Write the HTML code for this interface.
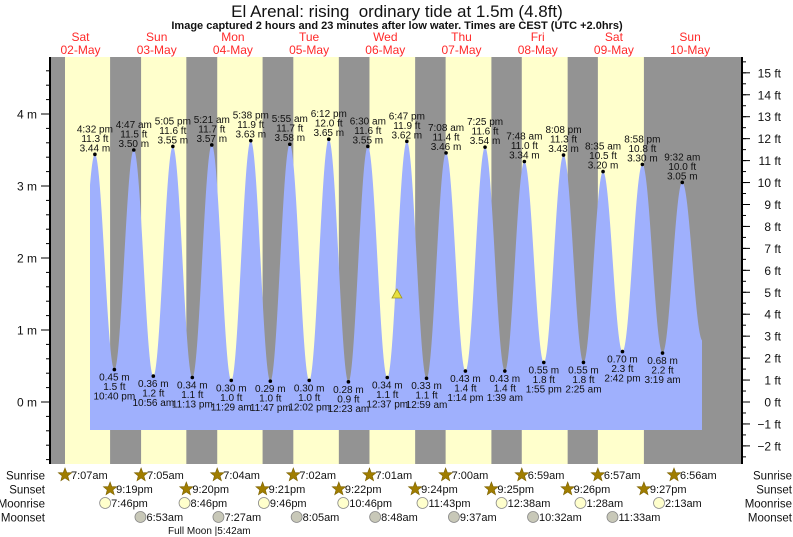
<!DOCTYPE html>
<html><head><meta charset="utf-8">
<style>
html,body{margin:0;padding:0;background:#fff;}
svg{display:block;font-family:"Liberation Sans",sans-serif;}
</style></head>
<body>
<svg id="chart" width="793" height="537" viewBox="0 0 793 537" xmlns="http://www.w3.org/2000/svg">
<text x="397" y="17" text-anchor="middle" font-size="17" fill="#111" style="white-space:pre">El Arenal: rising&#160; ordinary tide at 1.5m (4.8ft)</text>
<text x="397" y="29" text-anchor="middle" font-size="11" font-weight="bold" fill="#111">Image captured 2 hours and 23 minutes after low water. Times are CEST (UTC +2.0hrs)</text>
<g id="bg"></g>
<g id="tide"></g>
<g id="labels"></g>
<g id="axes"></g>
<g id="astro"></g>
</svg>
<script>
// ---- data ----
const dayNames = ["Sat","Sun","Mon","Tue","Wed","Thu","Fri","Sat","Sun"];
const dayDates = ["02-May","03-May","04-May","05-May","06-May","07-May","08-May","09-May","10-May"];
const sunriseTimes = ["7:07am","7:05am","7:04am","7:02am","7:01am","7:00am","6:59am","6:57am","6:56am"];
const sunsetTimes = ["9:19pm","9:20pm","9:21pm","9:22pm","9:24pm","9:25pm","9:26pm","9:27pm"];
const moonriseDays = [0,1,2,3,4,6,7,8];
const moonriseTimes = ["7:46pm","8:46pm","9:46pm","10:46pm","11:43pm","12:38am","1:28am","2:13am"];
const moonsetDays = [1,2,3,4,5,6,7];
const moonsetTimes = ["6:53am","7:27am","8:05am","8:48am","9:37am","10:32am","11:33am"];
const tideDays = [0,0,1,1,1,1,2,2,2,2,3,3,3,4,4,4,4,5,5,5,5,6,6,6,6,7,7,7,7,8,8];
const tideTimes = ["4:32 pm","10:40 pm","4:47 am","10:56 am","5:05 pm","11:13 pm","5:21 am","11:29 am","5:38 pm","11:47 pm","5:55 am","12:02 pm","6:12 pm","12:23 am","6:30 am","12:37 pm","6:47 pm","12:59 am","7:08 am","1:14 pm","7:25 pm","1:39 am","7:48 am","1:55 pm","8:08 pm","2:25 am","8:35 am","2:42 pm","8:58 pm","3:19 am","9:32 am"];
const tideMeters = [3.44,0.45,3.50,0.36,3.55,0.34,3.57,0.30,3.63,0.29,3.58,0.30,3.65,0.28,3.55,0.34,3.62,0.33,3.46,0.43,3.54,0.43,3.34,0.55,3.43,0.55,3.20,0.70,3.30,0.68,3.05];
const meterTicks = [0,1,2,3,4];
const feetTicks = [-2,-1,0,1,2,3,4,5,6,7,8,9,10,11,12,13,14,15];
const currentLevel = 1.5;
const currentTime = 4*24 + 15.67;

// ---- scales ----
const PX_DAY = 76.2, X0 = 42.4;
const plotL = 50, plotR = 742, plotT = 57, plotB = 464;
const xH = h => X0 + h * PX_DAY / 24;
const yM = m => 402 - m * 72;
const yF = f => yM(f * 0.3048);
function parseT(s){const m=s.match(/(\d+):(\d+)\s*(am|pm)/);let h=+m[1]%12;if(m[3]==="pm")h+=12;return h+ +m[2]/60;}
const NS="http://www.w3.org/2000/svg";
function mk(tag,attrs,parent,txt){const e=document.createElementNS(NS,tag);for(const k in attrs)e.setAttribute(k,attrs[k]);if(txt!==undefined)e.textContent=txt;parent.appendChild(e);return e;}

// ---- background ----
const bg=document.getElementById('bg');
let r=mk('rect',{x:plotL,y:plotT,width:plotR-plotL,height:plotB-plotT,fill:'#939393'},bg);


for(let d=0;d<sunsetTimes.length;d++){
  const x1=xH(d*24+parseT(sunriseTimes[d])), x2=xH(d*24+parseT(sunsetTimes[d]));
  const yr=mk('rect',{x:x1,y:plotT,width:x2-x1,height:plotB-plotT,fill:'#ffffcc'},bg);
  
  
}
for(let d=0;d<dayNames.length;d++){
  const cx=xH(d*24+12);
  const t1=mk('text',{x:cx,y:41,'text-anchor':'middle','font-size':12,fill:'#ff2a2a'},document.getElementById('chart'),dayNames[d]);
  
  
  const t2=mk('text',{x:cx,y:54,'text-anchor':'middle','font-size':12,fill:'#ff2a2a'},document.getElementById('chart'),dayDates[d]);
  
  
}

// ---- tide curve ----
const hrs=tideTimes.map((t,i)=>tideDays[i]*24+parseT(t));
const ext=[{h:hrs[0]-6.2,m:0.5}].concat(hrs.map((h,i)=>({h,m:tideMeters[i]}))).concat([{h:hrs[hrs.length-1]+6.4,m:0.85}]);
const startX=90, endX=702, baseY=430;
function level(h){for(let i=0;i<ext.length-1;i++){const a=ext[i],b=ext[i+1];if(h>=a.h&&h<=b.h){const t=(h-a.h)/(b.h-a.h);return a.m+(b.m-a.m)*(1-Math.cos(Math.PI*t))/2;}}return 0;}
let pts=[`${startX},${baseY}`];
for(let x=startX;x<=endX;x+=0.5){const h=(x-X0)*24/PX_DAY;pts.push(`${x},${yM(level(h)).toFixed(2)}`);}
pts.push(`${endX},${baseY}`);
const tide=document.getElementById('tide');
const poly=mk('polygon',{points:pts.join(' '),fill:'#9fb0fd'},tide);



// ---- labels ----
const lab=document.getElementById('labels');
hrs.forEach((h,i)=>{
  const x=xH(h), y=yM(tideMeters[i]), m=tideMeters[i];
  const dot=mk('circle',{cx:x,cy:y,r:1.8,fill:'#000'},lab);
  
  
  const ft=(m*3.28084).toFixed(1)+" ft", ms=m.toFixed(2)+" m";
  const high=i%2===0;
  const lines=high?[tideTimes[i],ft,ms]:[ms,ft,tideTimes[i]];
  const ys=high?[y-22,y-12.5,y-3]:[y+11,y+20.5,y+30];
  lines.forEach((s,k)=>{
    const t=mk('text',{x:x,y:ys[k],'text-anchor':'middle','font-size':10,fill:'#111'},lab,s);
    
    
  });
});
const cur=mk('polygon',{points:`${xH(currentTime)-5},${yM(currentLevel)+4} ${xH(currentTime)+5},${yM(currentLevel)+4} ${xH(currentTime)},${yM(currentLevel)-5}`,fill:'#e8e040',stroke:'#a09820','stroke-width':0.8},lab);



// ---- axes ----
const ax=document.getElementById('axes');
let l=mk('line',{x1:plotL,y1:plotT,x2:plotL,y2:plotB,stroke:'#000','stroke-width':2},ax);


l=mk('line',{x1:plotR,y1:plotT,x2:plotR,y2:plotB,stroke:'#000','stroke-width':2},ax);


for(let m=-0.8;m<=4.81;m+=0.2){const y=yM(m);if(y<plotT||y>plotB)continue;const mt=mk('line',{x1:plotL-4,y1:y,x2:plotL,y2:y,stroke:'#000','stroke-width':1},ax);}
meterTicks.forEach(m=>{const y=yM(m);
  const t=mk('line',{x1:plotL-9,y1:y,x2:plotL,y2:y,stroke:'#000','stroke-width':1},ax);
  
  
  const tx=mk('text',{x:37,y:y+4.5,'text-anchor':'end','font-size':12,fill:'#111'},ax,m+" m");
  
  
});
for(let f=-2.5;f<=15.5;f+=0.5){const y=yF(f);if(y<plotT||y>plotB)continue;const mt=mk('line',{x1:plotR,y1:y,x2:plotR+4,y2:y,stroke:'#000','stroke-width':1},ax);}
feetTicks.forEach(f=>{const y=yF(f);
  const t=mk('line',{x1:plotR,y1:y,x2:plotR+8,y2:y,stroke:'#000','stroke-width':1},ax);
  
  
  const tx=mk('text',{x:781,y:y+4.5,'text-anchor':'end','font-size':12,fill:'#111'},ax,(f<0?"\u2212"+(-f):f)+" ft");
  
  
});

// ---- astronomy rows ----
const as=document.getElementById('astro');
const rowY=[475,489,503,517];
["Sunrise","Sunset","Moonrise","Moonset"].forEach((n,i)=>{
  const a=mk('text',{x:45,y:rowY[i]+4.5,'text-anchor':'end','font-size':11.5,fill:'#111'},as,n);
  
  
  const b=mk('text',{x:792,y:rowY[i]+4.5,'text-anchor':'end','font-size':11.5,fill:'#111'},as,n);
  
  
});
function star(cx,cy){const p=[];for(let k=0;k<10;k++){const a=-Math.PI/2+k*Math.PI/5,rr=k%2?3:7;p.push((cx+rr*Math.cos(a)).toFixed(1)+','+(cy+rr*Math.sin(a)).toFixed(1));}return p.join(' ');}
function addEvent(x,row,txt,kind){
  let ic;
  if(kind==='star') ic=mk('polygon',{points:star(x,rowY[row]),fill:'#a07d00',stroke:'#7a6000','stroke-width':0.6},as);
  else ic=mk('circle',{cx:x,cy:rowY[row],r:5.5,fill:kind==='mr'?'#ffffcc':'#c8c8b8',stroke:'#888','stroke-width':0.8},as);
  
  
  const t=mk('text',{x:x+6,y:rowY[row]+4,'font-size':11,fill:'#111'},as,txt);
  
  
}
sunriseTimes.forEach((t,d)=>addEvent(xH(d*24+parseT(t)),0,t,'star'));
sunsetTimes.forEach((t,d)=>addEvent(xH(d*24+parseT(t)),1,t,'star'));
moonriseTimes.forEach((t,i)=>addEvent(xH(moonriseDays[i]*24+parseT(t)),2,t,'mr'));
moonsetTimes.forEach((t,i)=>addEvent(xH(moonsetDays[i]*24+parseT(t)),3,t,'ms'));
const fm=mk('text',{x:168,y:534,'font-size':10,fill:'#111'},as,"Full Moon |5:42am");


</script>
</body></html>
